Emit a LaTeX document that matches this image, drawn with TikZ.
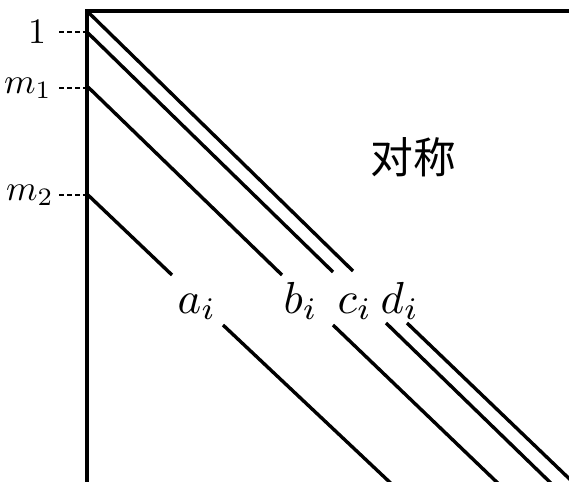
\documentclass[tikz,border=0pt]{standalone}
\usepackage{graphicx}
\usepackage{fontspec}
\newfontfamily\cjk{Noto Sans CJK SC}
\usetikzlibrary{positioning}

\newcommand{\bandlab}[1]{\scalebox{4.5}{#1}}
\newcommand{\rowlab}[1]{\scalebox{3.6}{#1}}

\begin{document}
\begin{tikzpicture}[x=1bp, y=-1bp, line width=3.4bp,
  lab/.style={anchor=base west, inner sep=0pt},
  side/.style={inner sep=0pt},
  tick/.style={line width=2bp, dash pattern=on 5bp off 3bp}]

  \useasboundingbox (0,0) rectangle (569,482);
  \clip (0,0) rectangle (569,482);

  % === Matrix frame (left and top edges) ===
  \coordinate (corner) at (87,11);
  \draw (87,495) -- (corner) -- (580,11);

  % === Row marks on the left ===
  \foreach \yy/\xx/\lbl in {32/37/1, 88/28/{$m_1$}, 195/30/{$m_2$}} {
    \node[side] (mark\yy) at (\xx,\yy) {\rowlab{\lbl}};
    \draw[tick] (59,\yy) -- (86,\yy);
  }

  % === Diagonal bands, broken where the labels sit ===
  \foreach \name/\xa/\ya/\xb/\yb/\xc/\yc/\xd/\yd in {
      a/88/195/172/275/223/325/398/490,
      b/88/87/282/275/333/325/505/490,
      c/88/33/333/272/386/323/558/490,
      d/88/12/353/271/407/323/581/490} {
    \draw (\xa,\ya) -- (\xb,\yb);
    \draw (\xc,\yc) -- (\xd,\yd);
  }

  % === Band labels ===
  \node[lab] (la) at (176,313) {\bandlab{$a_i$}};
  \node[lab] (lb) at (282,313) {\bandlab{$b_i$}};
  \node[lab] (lc) at (336,313) {\bandlab{$c_i$}};
  \node[lab] (ld) at (379,313) {\bandlab{$d_i$}};

  % Upper half is symmetric
  \node[font=\cjk\fontsize{43}{45}\selectfont] (sym) at (413,157) {对称};

\end{tikzpicture}
\end{document}
